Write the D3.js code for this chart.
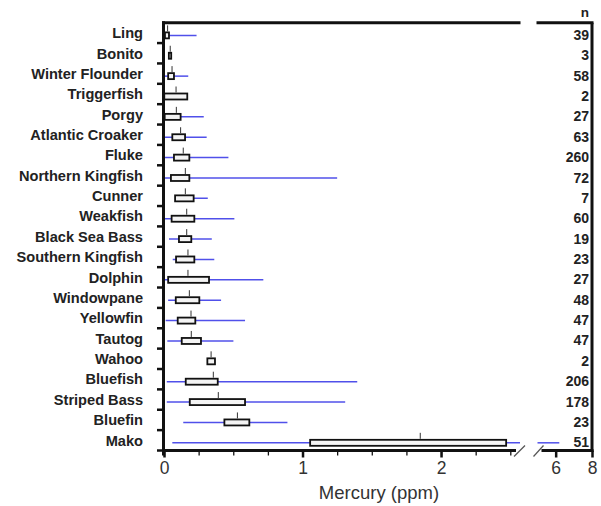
<!DOCTYPE html>
<html>
<head>
<meta charset="utf-8">
<script src="https://cdn.jsdelivr.net/npm/d3@7"></script>
<style>
  html, body { margin: 0; padding: 0; background: #fff; }
  svg { display: block; }
  text { font-family: "Liberation Sans", Arial, sans-serif; }
</style>
</head>
<body>
<svg id="chart" width="601" height="506"></svg>
<script>
// ---- data ----
const species = ["Ling","Bonito","Winter Flounder","Triggerfish","Porgy","Atlantic Croaker","Fluke",
  "Northern Kingfish","Cunner","Weakfish","Black Sea Bass","Southern Kingfish","Dolphin","Windowpane",
  "Yellowfin","Tautog","Wahoo","Bluefish","Striped Bass","Bluefin","Mako"];
const nValues = [39,3,58,2,27,63,260,72,7,60,19,23,27,48,47,47,2,206,178,23,51];
const whiskerLow  = [0.005,null,0.005,null,0.005,0.007,0.007,0.007,0.08,0.007,0.036,0.063,0.007,0.03,0.012,0.024,null,0.02,0.02,0.139,0.06];
const quartile1   = [0.007,0.035,0.03,0.002,0.005,0.06,0.072,0.05,0.08,0.055,0.108,0.087,0.03,0.085,0.099,0.128,0.313,0.157,0.186,0.436,1.055];
const medians     = [0.026,0.045,0.058,0.087,0.089,0.12,0.139,0.154,0.154,0.164,0.164,0.173,0.173,0.183,0.195,0.197,0.34,0.356,0.392,0.53,1.85];
const quartile3   = [0.036,0.052,0.072,0.168,0.12,0.152,0.183,0.183,0.214,0.219,0.197,0.219,0.325,0.255,0.226,0.267,0.368,0.388,0.585,0.616,2.47];
const whiskerHigh = [0.235,null,0.175,null,0.287,0.308,0.465,1.25,0.316,0.508,0.345,0.363,0.717,0.412,0.585,0.501,null,1.395,1.308,0.891,6.2];
const leftTicks = [0,1,2];
const leftMinorTicks = [0,0.25,0.5,0.75,1,1.25,1.5,1.75,2,2.25,2.5];
const rightTicks = [6,8];
const xTitle = "Mercury (ppm)";
const nHeader = "n";

const rows = species.map((s,i)=>({name:s,n:nValues[i],lo:whiskerLow[i],q1:quartile1[i],med:medians[i],q3:quartile3[i],hi:whiskerHigh[i]}));

// ---- layout ----
const svg = d3.select("#chart");
const plotTop = 22.7, plotBottom = 450.5;
const leftMax = 2.57, rightMin = 5;
const xL = d3.scaleLinear().domain([0, leftMax]).range([164, 520]);
const xR = d3.scaleLinear().domain([rightMin, 8]).range([537.5, 592]);
const y = d3.scaleBand().domain(species).range([plotTop, plotBottom]);
const bw = y.bandwidth();
const textCol = "#222";
const blue = "#5050ea";

function segs(a, b) {
  const out = [];
  if (a < leftMax) out.push([xL(a), xL(Math.min(b, leftMax))]);
  if (b > rightMin) out.push([xR(Math.max(a, rightMin)), xR(b)]);
  return out;
}

const g = svg.append("g");

// whiskers
rows.forEach(r => {
  if (r.lo == null) return;
  const cy = y(r.name) + bw/2 + 2.5;
  segs(r.lo, r.hi).forEach(s => {
    g.append("line").attr("x1", s[0]).attr("x2", s[1]).attr("y1", cy).attr("y2", cy)
      .attr("stroke", blue).attr("stroke-width", 1.5);
  });
});

// boxes + median ticks
rows.forEach(r => {
  const cy = y(r.name) + bw/2 + 2.5;
  const h = 6;
  const x1 = xL(r.q1), x2 = xL(Math.min(r.q3, leftMax));
  g.append("rect").attr("x", x1).attr("y", cy - h/2).attr("width", Math.max(x2 - x1, 0.5)).attr("height", h)
    .attr("fill", "#f4f4f4").attr("stroke", "#111").attr("stroke-width", 1.8);
  const mx = xL(r.med);
  g.append("line").attr("x1", mx).attr("x2", mx).attr("y1", cy - h/2 - 7).attr("y2", cy - h/2 - 1)
    .attr("stroke", "#333").attr("stroke-width", 1);
});

// frame
const axCol = "#111";
svg.append("line").attr("x1", 163.5).attr("x2", 163.5).attr("y1", plotTop - 1.5).attr("y2", plotBottom + 5)
  .attr("stroke", axCol).attr("stroke-width", 3);
svg.append("line").attr("x1", 162).attr("x2", 520.5).attr("y1", plotTop).attr("y2", plotTop)
  .attr("stroke", axCol).attr("stroke-width", 3);
svg.append("line").attr("x1", 536.5).attr("x2", 593.5).attr("y1", plotTop).attr("y2", plotTop)
  .attr("stroke", axCol).attr("stroke-width", 3);
svg.append("line").attr("x1", 592).attr("x2", 592).attr("y1", plotTop).attr("y2", plotBottom + 1.5)
  .attr("stroke", axCol).attr("stroke-width", 3);

// y ticks at band boundaries
species.forEach((s, i) => {
  if (i === 0) return;
  const yy = y(s);
  svg.append("line").attr("x1", 157).attr("x2", 163).attr("y1", yy).attr("y2", yy)
    .attr("stroke", axCol).attr("stroke-width", 2.5);
});
svg.append("line").attr("x1", 157).attr("x2", 163).attr("y1", plotBottom).attr("y2", plotBottom)
  .attr("stroke", axCol).attr("stroke-width", 2.5);

// category labels
svg.append("g").selectAll("text").data(rows).join("text")
  .attr("x", 143).attr("y", d => y(d.name) + bw/2)
  .attr("dy", "0.36em").attr("text-anchor", "end")
  .attr("font-size", 14.6).attr("font-weight", "bold").attr("fill", textCol)
  .text(d => d.name);

// n values
svg.append("g").selectAll("text").data(rows).join("text")
  .attr("x", 589).attr("y", d => y(d.name) + bw/2 + 2)
  .attr("dy", "0.36em").attr("text-anchor", "end")
  .attr("font-size", 14).attr("font-weight", "bold").attr("fill", textCol)
  .text(d => d.n);
svg.append("text").attr("x", 589).attr("y", 17).attr("text-anchor", "end")
  .attr("font-size", 13.5).attr("font-weight", "bold").attr("fill", textCol).text(nHeader);

// bottom axis (left panel)
const axY = plotBottom;
const gxMinor = svg.append("g").attr("transform", `translate(0,${axY})`)
  .call(d3.axisBottom(xL).tickValues(leftMinorTicks).tickSize(5).tickFormat(""));
gxMinor.select(".domain").remove();
gxMinor.selectAll(".tick line").attr("stroke", axCol).attr("stroke-width", 1.3);
const gxL = svg.append("g").attr("transform", `translate(0,${axY})`)
  .call(d3.axisBottom(xL).tickValues(leftTicks).tickSize(7).tickPadding(4).tickFormat(d3.format("d")));
gxL.select(".domain").remove();
gxL.selectAll(".tick line").attr("stroke", axCol).attr("stroke-width", 2.5);
gxL.selectAll(".tick text").attr("font-size", 17.5).attr("fill", "#333").attr("font-family", "Liberation Sans, Arial, sans-serif");
svg.append("line").attr("x1", 162).attr("x2", xL(leftMax) - 4).attr("y1", axY).attr("y2", axY)
  .attr("stroke", axCol).attr("stroke-width", 3);

// bottom axis (right panel)
const gxR = svg.append("g").attr("transform", `translate(0,${axY})`)
  .call(d3.axisBottom(xR).tickValues(rightTicks).tickSize(7).tickPadding(4).tickFormat(d3.format("d")));
gxR.select(".domain").remove();
gxR.selectAll(".tick line").attr("stroke", axCol).attr("stroke-width", 2.5);
gxR.selectAll(".tick text").attr("font-size", 17.5).attr("fill", "#333").attr("font-family", "Liberation Sans, Arial, sans-serif");
svg.append("line").attr("x1", xR(rightMin) + 4).attr("x2", 593.5).attr("y1", axY).attr("y2", axY)
  .attr("stroke", axCol).attr("stroke-width", 3);

// break marks
[[xL(leftMax) - 6, xL(leftMax) + 5], [xR(rightMin) - 4, xR(rightMin) + 6]].forEach(p => {
  svg.append("line").attr("x1", p[0]).attr("y1", axY + 6).attr("x2", p[1]).attr("y2", axY - 5)
    .attr("stroke", "#555").attr("stroke-width", 1.2);
});

// axis title
svg.append("text").attr("x", 379).attr("y", 499).attr("text-anchor", "middle")
  .attr("font-size", 18.5).attr("fill", "#333").text(xTitle);
</script>
</body>
</html>
